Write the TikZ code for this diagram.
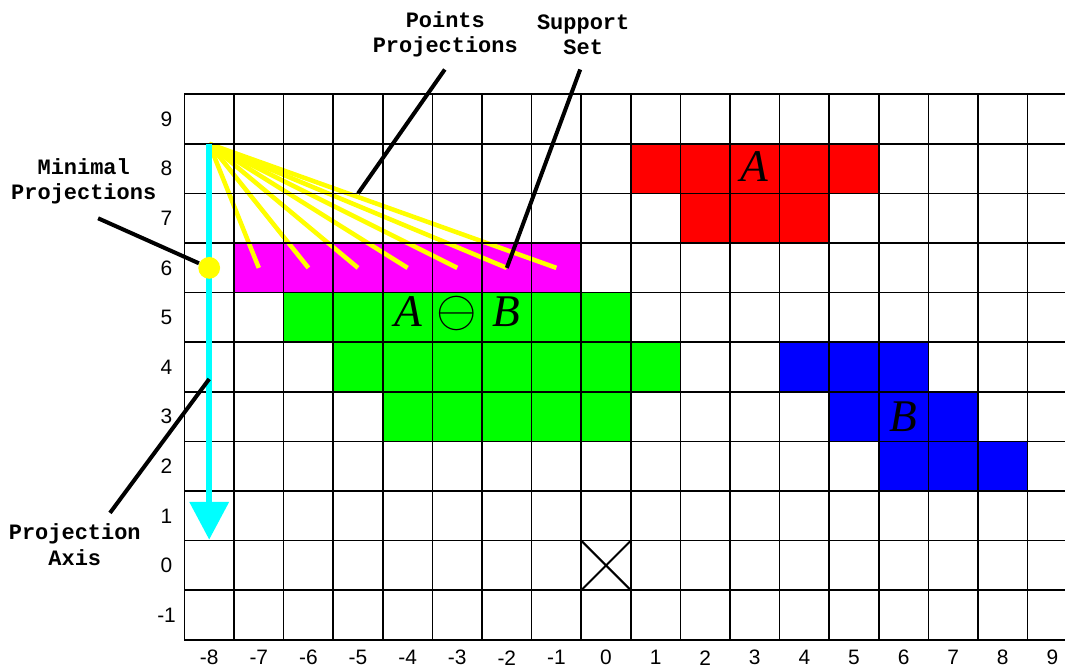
\documentclass[tikz,border=0pt]{standalone}
\usepackage{fontspec}
\setmainfont{Liberation Serif}
\newfontfamily\numfont{Liberation Sans}
\newfontfamily\notefont{Liberation Mono}
\usetikzlibrary{arrows.meta}
\definecolor{setred}{RGB}{255,0,0}
\definecolor{setblue}{RGB}{0,0,255}
\definecolor{setgreen}{RGB}{0,255,0}
\definecolor{supmagenta}{RGB}{255,0,255}
\definecolor{projyellow}{RGB}{255,255,0}
\definecolor{axiscyan}{RGB}{0,255,255}

\begin{document}
\begin{tikzpicture}[>=Stealth,
    gridline/.style={line width=0.9pt,black},
    numlabel/.style={font=\numfont\fontsize{12}{14}\selectfont,inner sep=0pt},
    note/.style={font=\notefont\bfseries\fontsize{12.6}{14.4}\selectfont,align=center,inner sep=0pt},
    pointer/.style={line width=2.3pt,black},
    proj/.style={line width=2.6pt,projyellow},
    setname/.style={font=\itshape\fontsize{26}{30}\selectfont,inner sep=0pt}]
  \useasboundingbox (-12.218,-2.046) rectangle (9.254,11.401);
  % the sets
  \fill[setred] (0.5,7.5) rectangle (5.5,8.5) (1.5,6.5) rectangle (4.5,7.5);
  \fill[setblue] (3.5,3.5) rectangle (6.5,4.5) (4.5,2.5) rectangle (7.5,3.5) (5.5,1.5) rectangle (8.5,2.5);
  \fill[setgreen] (-6.5,4.5) rectangle (0.5,5.5) (-5.5,3.5) rectangle (1.5,4.5) (-4.5,2.5) rectangle (0.5,3.5);
  \fill[supmagenta] (-7.5,5.5) rectangle (-0.5,6.5);
  % projections of the points
  \coordinate (apex) at (-8,8.5);
  \foreach \x in {-7,...,-1} {
    \coordinate (p\x) at (\x,6);
    \draw[proj] (apex) -- (p\x);
  }
  % grid
  \foreach \x in {-8.5,...,9.5} \draw[gridline] (\x,-1.5) -- (\x,9.5);
  \foreach \y in {-1.5,...,9.5} \draw[gridline] (-8.5,\y) -- (9.6,\y);
  \draw[line width=1.2pt] (-0.5,-0.5) -- (0.5,0.5) (-0.5,0.5) -- (0.5,-0.5);
  \foreach \y in {-1,...,9} \node[numlabel] (row\y) at (-8.86,\y) {\y};
  \foreach \x in {-8,...,9} \node[numlabel] (col\x) at (\x,-1.86) {\x};
  % projection axis
  \coordinate (axistip) at (-8,0.52);
  \draw[axiscyan,line width=3.4pt,-{Triangle[width=0.77cm,length=0.76cm]}] (apex) -- (axistip);
  \node[circle,fill=projyellow,minimum size=0.44cm,inner sep=0pt] (minpt) at (-8,6) {};
  % set names
  \node[setname] (nameA) at (3,8.04) {A};
  \node[setname] (nameB) at (6,3.0) {B};
  \node[setname] (nameAB) at (-3,5.08) {A\hspace{8.5pt}\scalebox{1.2}{$\ominus$}\hspace{8.5pt}B};
  % notes
  \node[note] (minnote) at (-10.53,7.75) {Minimal\\Projections};
  \node[note] (ptsnote) at (-3.24,10.70) {Points\\Projections};
  \node[note] (supnote) at (-0.46,10.70) {Support\\Set};
  \node[note] (axisnote) at (-10.71,0.42) {Projection\\Axis};
  \coordinate (minstart) at (-10.24,7.0);
  \coordinate (ptsstart) at (-3.25,10.0);
  \coordinate (ptsend) at (-5,7.5);
  \coordinate (supstart) at (-0.52,10.0);
  \coordinate (axisstart) at (-10,1.06);
  \coordinate (axisend) at (-8,3.76);
  \draw[pointer] (minstart) -- (minpt);
  \draw[pointer] (ptsstart) -- (ptsend);
  \draw[pointer] (supstart) -- (p-2);
  \draw[pointer] (axisstart) -- (axisend);
\end{tikzpicture}
\end{document}
